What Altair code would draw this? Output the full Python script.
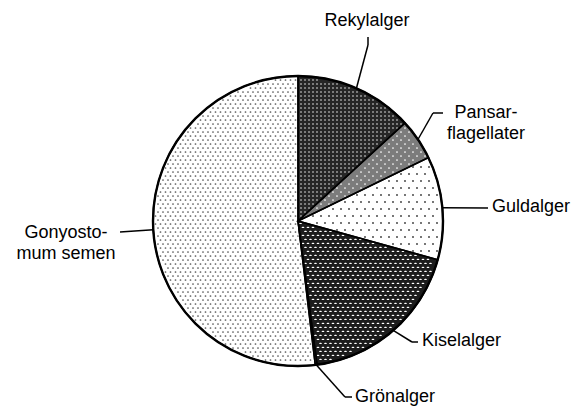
import math
import altair as alt
import pandas as pd

# ---- data ----
categories = ["Rekylalger", "Pansarflagellater", "Guldalger", "Kiselalger", "Grönalger", "Gonyostomum semen"]
shares = [13.2, 4.6, 11.5, 18.6, 0.2, 51.9]
label_texts = ["Rekylalger", "Pansar-\nflagellater", "Guldalger", "Kiselalger", "Grönalger", "Gonyosto-\nmum semen"]

# ---- styling / layout ----
fills = ["#262626", "#7c7c7c", "#ffffff", "#1c1c1c", "#777777", "#ffffff"]
# texture per slice: (x spacing, y spacing, row x-offset, mark size, colour, shape)
textures = [
    (4, 4, 0, 2.2, "#ffffff", "circle"),
    (8, 4, 4, 3.0, "#ffffff", "circle"),
    (8, 7, 4, 3.2, "#333333", "circle"),
    (5, 4, 2.5, 7.0, "#ffffff", "M-1,-0.45 A1,0.45 0 1,0 1,-0.45 A1,0.45 0 1,0 -1,-0.45 Z"),
    None,
    (5, 4, 2.5, 3.0, "#555555", "circle"),
]
CX, CY, R = 290, 213, 145
# leader line elbow / end and label anchor, offsets from pie centre (px)
elbow_dx = [70, 135, 190, 114, 47, -178]
elbow_dy = [-176, -108, -13, 121, 176, 11]
end_dx = [70, 145, 190, 120, 54, -178]
end_dy = [-184, -108, -13, 121, 176, 11]
text_dx = [69, 188, 194, 124, 57, -232]
text_dy = [-200, -108, -14, 120, 176, 12]
text_align = ["center", "center", "left", "left", "left", "center"]

df = pd.DataFrame({
    "cat": categories,
    "value": shares,
    "order": list(range(len(categories))),
    "label": label_texts,
    "ex": elbow_dx, "ey": elbow_dy,
    "fx": end_dx, "fy": end_dy,
    "tx": text_dx, "ty": text_dy,
    "align": text_align,
})

base = alt.Chart(df)

pie = base.mark_arc(radius=R, strokeWidth=0).encode(
    theta=alt.Theta("value:Q", stack=True),
    order=alt.Order("order:Q"),
    color=alt.Color("cat:N", scale=alt.Scale(domain=categories, range=fills), legend=None),
    x=alt.value(CX),
    y=alt.value(CY),
)
outlines = base.mark_arc(radius=R, stroke="black", strokeWidth=1.5, fillOpacity=0).encode(
    theta=alt.Theta("value:Q", stack=True),
    order=alt.Order("order:Q"),
    x=alt.value(CX),
    y=alt.value(CY),
)

# angular boundaries of each slice, from the shares
total = sum(shares)
bounds = []
acc = 0.0
for v in shares:
    bounds.append((2 * math.pi * acc / total, 2 * math.pi * (acc + v) / total))
    acc += v

tex_layers = []
for (a0, a1), tex in zip(bounds, textures):
    if tex is None:
        continue
    spx, spy, offx, size, col, shape = tex
    ncols = int(2 * R / spx) + 2
    nrows = int(2 * R / spy) + 2
    layer = alt.Chart(alt.sequence(0, ncols * nrows, as_="i")).transform_calculate(
        gx=f"{CX - R} + (datum.i % {ncols})*{spx} + (floor(datum.i/{ncols}) % 2)*{offx}",
        gy=f"{CY - R} + floor(datum.i/{ncols})*{spy}",
    ).transform_calculate(
        d=f"sqrt(pow(datum.gx-{CX},2)+pow(datum.gy-{CY},2))",
        a0=f"atan2(datum.gx-{CX}, {CY}-datum.gy)",
    ).transform_calculate(
        a=f"datum.a0 < 0 ? datum.a0 + 2*PI : datum.a0",
    ).transform_filter(
        f"datum.d < {R - 2.2} && datum.a > {a0} && datum.a < {a1}"
        f" && (datum.a - {a0} > PI/2 || datum.d*sin(datum.a - {a0}) > 1.6)"
        f" && ({a1} - datum.a > PI/2 || datum.d*sin({a1} - datum.a) > 1.6)"
    ).mark_point(filled=True, size=size, color=col, opacity=1, shape=shape, strokeWidth=0).encode(
        x=alt.X("gx:Q", scale=None), y=alt.Y("gy:Q", scale=None)
    )
    tex_layers.append(layer)

rim = alt.Chart(pd.DataFrame({"v": [1]})).mark_arc(
    radius=R, fillOpacity=0, stroke="black", strokeWidth=2.4
).encode(theta=alt.Theta("v:Q"), x=alt.value(CX), y=alt.value(CY))

geo = base.transform_window(
    cum="sum(value)", sort=[alt.SortField("order")]
).transform_joinaggregate(
    total="sum(value)"
).transform_calculate(
    a="2*PI*(datum.cum - datum.value/2)/datum.total",
).transform_calculate(
    sx=f"{CX} + {R}*sin(datum.a)",
    sy=f"{CY} - {R}*cos(datum.a)",
    px=f"{CX} + datum.ex",
    py=f"{CY} + datum.ey",
    qx=f"{CX} + datum.fx",
    qy=f"{CY} + datum.fy",
    lx=f"{CX} + datum.tx",
    ly=f"{CY} + datum.ty",
    lines="split(datum.label, '\\n')",
)

seg1 = geo.mark_rule(color="black", strokeWidth=1.5).encode(
    x=alt.X("sx:Q", scale=None), y=alt.Y("sy:Q", scale=None),
    x2="px:Q", y2="py:Q",
)
seg2 = geo.mark_rule(color="black", strokeWidth=1.5).encode(
    x=alt.X("px:Q", scale=None), y=alt.Y("py:Q", scale=None),
    x2="qx:Q", y2="qy:Q",
)

def labels(al):
    return geo.transform_filter(f"datum.align == '{al}'").mark_text(
        align=al, baseline="middle", font="Liberation Sans", fontSize=18,
        lineHeight=21, color="black",
    ).encode(
        x=alt.X("lx:Q", scale=None), y=alt.Y("ly:Q", scale=None),
        text="lines:N",
    )

chart = alt.layer(
    pie, *tex_layers, outlines, rim, seg1, seg2, labels("center"), labels("left")
).resolve_scale(theta="independent").properties(
    width=563, height=400, padding=0, autosize="none"
).configure_view(stroke=None)

chart.save("out.html", embed_options={"renderer": "svg", "actions": False})
